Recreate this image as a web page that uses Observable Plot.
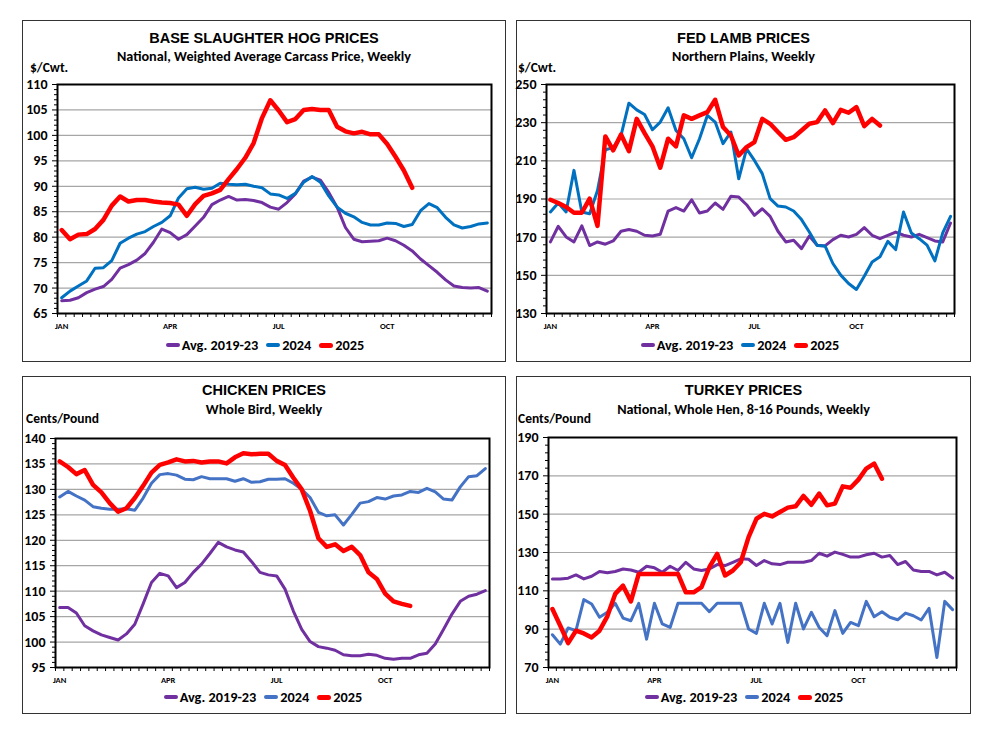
<!DOCTYPE html>
<html>
<head>
<meta charset="utf-8">
<script src="https://cdn.jsdelivr.net/npm/d3@7"></script>
<script src="https://cdn.jsdelivr.net/npm/@observablehq/plot@0.6"></script>
<style>
  html, body { margin: 0; padding: 0; background: #fff; }
  body { width: 1000px; height: 750px; position: relative; overflow: hidden; font-family: Carlito, Lato, "Open Sans", sans-serif; color: #000; }
  .panel { position: absolute; border: 1.5px solid #333; box-sizing: border-box; }
  .title { position: absolute; text-align: center; font: bold 14.5px "Liberation Sans", Arial, sans-serif; line-height: 1; white-space: nowrap; }
  .sub { position: absolute; text-align: center; font-weight: bold; font-size: 14.2px; line-height: 1; white-space: nowrap; }
  .unit { position: absolute; font-weight: bold; font-size: 13.5px; line-height: 1; white-space: nowrap; }
  .legend { position: absolute; display: flex; justify-content: center; align-items: center; font-weight: bold; font-size: 14.3px; line-height: 1; white-space: nowrap; width: 400px; }
  .legend .item { display: flex; align-items: center; margin: 0 4px; }
  .legend .sw { display: inline-block; width: 14px; border-radius: 3px; margin-right: 2px; }
  svg { position: absolute; }
</style>
</head>
<body>
<script>
// ---------- data ----------
const seriesNames = ["Avg. 2019-23", "2024", "2025"];
const monthLabels = ["JAN", "APR", "JUL", "OCT"];
const monthWeeks = [1, 14, 27, 40];

// Base slaughter hog prices ($/Cwt.)
const hogAvg = [67.5,67.6,68.1,69.1,69.8,70.3,71.7,73.9,74.6,75.5,76.8,79.0,81.6,80.9,79.6,80.5,82.2,83.9,86.4,87.3,88.0,87.3,87.4,87.2,86.8,85.9,85.5,86.8,88.5,91.0,91.8,91.2,88.8,85.9,81.9,79.6,79.1,79.2,79.3,79.8,79.3,78.4,77.3,75.7,74.4,73.1,71.6,70.4,70.1,70.0,70.1,69.4];
const hog2024 = [68.1,69.4,70.4,71.4,73.9,74.0,75.4,78.8,79.8,80.6,81.1,82.1,82.9,84.2,87.7,89.5,89.8,89.4,89.6,90.6,90.4,90.3,90.4,90.0,89.7,88.5,88.3,87.6,88.6,90.8,91.9,90.8,88.1,85.9,84.7,84.0,82.9,82.4,82.4,82.8,82.7,82.1,82.5,85.2,86.6,85.8,83.9,82.4,81.8,82.1,82.6,82.8];
const hog2025 = [81.4,79.6,80.5,80.6,81.6,83.4,86.2,88.0,87.0,87.3,87.3,87.0,86.8,86.7,86.4,84.2,86.5,88.1,88.6,89.3,91.4,93.4,95.6,98.5,103.4,106.9,104.9,102.6,103.2,105.0,105.2,105.0,105.0,101.7,100.8,100.4,100.7,100.2,100.2,98.3,95.8,93.1,89.7];

// Fed lamb prices ($/Cwt.)
const lambAvg = [167.5,175.7,170.1,167.5,175.9,165.6,167.5,166.3,168.0,173.1,174.0,173.1,171.0,170.6,171.5,183.7,185.5,183.7,189.6,182.7,183.7,187.9,184.6,191.4,191.0,187.0,181.4,184.9,180.9,173.1,167.5,168.4,164.0,170.6,165.8,165.4,168.7,171.0,170.1,171.5,175.0,171.0,169.2,171.0,172.7,171.0,170.1,171.5,169.8,168.0,167.5,177.4];
const lamb2024 = [183.2,187.9,183.2,205.0,183.2,182.3,194.5,215.8,216.9,223.3,240.2,236.7,234.3,226.3,230.3,237.8,225.9,221.6,211.6,221.6,233.8,230.3,219.0,225.1,200.6,216.3,210.2,203.3,190.2,186.3,185.8,183.7,179.2,172.7,165.6,165.4,156.2,150.1,145.7,142.6,149.5,157.0,159.7,167.8,163.5,183.2,172.2,169.2,165.8,157.6,172.2,180.9];
const lamb2025 = [189.6,187.9,185.8,182.8,182.8,190.2,175.9,222.8,215.5,223.8,215.1,232.0,224.5,217.6,206.4,221.6,217.6,233.8,232.0,233.8,235.5,242.0,227.7,223.3,212.8,217.2,219.8,232.0,229.4,225.1,221.0,222.4,225.9,229.4,230.3,236.4,229.8,236.7,235.2,238.1,228.2,232.0,228.5];

// Chicken prices (Cents/Pound)
const chickenAvg = [106.8,106.8,105.7,103.2,102.2,101.4,100.9,100.4,101.6,103.5,107.5,111.7,113.5,113.0,110.7,111.7,113.7,115.3,117.4,119.6,118.7,118.1,117.7,115.8,113.7,113.2,113.0,110.4,106.1,102.5,100.1,99.1,98.8,98.4,97.5,97.3,97.3,97.6,97.4,96.8,96.6,96.8,96.8,97.5,97.8,99.6,102.5,105.5,108.0,109.0,109.4,110.1];
const chicken2024 = [128.5,129.6,128.7,127.9,126.6,126.3,126.1,126.1,126.2,125.9,128.3,131.2,132.9,133.1,132.8,132.0,131.9,132.5,132.1,132.1,132.1,131.6,132.1,131.4,131.5,132.0,132.0,132.1,131.2,130.0,128.4,125.5,124.8,125.0,123.0,125.1,127.3,127.6,128.4,128.1,128.7,128.9,129.6,129.4,130.2,129.5,128.1,127.9,130.5,132.5,132.7,134.1];
const chicken2025 = [135.5,134.4,133.0,133.8,130.9,129.4,127.3,125.6,126.3,128.3,130.7,133.3,134.8,135.3,135.9,135.5,135.6,135.3,135.5,135.5,135.1,136.3,137.1,136.9,137.0,137.0,135.6,134.8,132.3,130.0,125.8,120.4,118.7,119.2,117.9,118.7,117.1,113.7,112.4,109.5,108.0,107.5,107.1];

// Turkey prices (Cents/Pound)
const turkeyAvg = [116.2,116.2,116.6,118.3,116.2,117.6,120.1,119.4,120.1,121.4,120.9,119.7,122.8,122.0,119.7,122.8,120.6,124.9,121.4,120.6,121.4,123.7,123.2,124.9,126.7,126.5,123.2,125.8,124.1,123.7,124.9,124.9,124.9,125.8,129.6,128.1,130.2,129.0,127.6,127.6,128.8,129.6,127.6,128.4,123.7,125.3,120.9,120.1,120.1,118.3,119.7,116.7];
const turkey2024 = [87.1,82.2,90.6,89.2,105.4,103.1,96.2,98.8,103.5,95.8,94.4,103.5,84.8,103.5,92.7,90.9,103.5,103.5,103.5,103.5,99.1,103.5,103.5,103.5,103.5,90.1,87.8,103.5,92.7,103.5,83.1,103.5,90.1,98.8,90.9,86.6,99.7,87.8,93.5,91.8,104.5,96.5,99.1,96.2,94.9,98.4,97.0,94.8,100.9,75.2,104.5,100.2];
const turkey2025 = [100.5,91.8,82.7,89.2,87.8,85.7,89.2,96.7,108.4,112.7,104.5,118.8,118.8,118.8,118.8,118.8,118.8,109.2,109.2,111.9,122.3,129.3,118.0,120.6,124.9,138.0,147.6,150.2,148.8,151.1,153.4,154.1,159.5,154.9,160.7,154.6,155.5,164.5,163.8,168.0,173.8,176.4,168.5];

// ---------- layout ----------
const panels = [
  { title: "BASE SLAUGHTER HOG PRICES", subtitle: "National, Weighted Average Carcass Price, Weekly", unit: "$/Cwt.",
    box: [22, 20, 484, 342], plot: [57, 84, 434, 229], yDomain: [65, 110], step: 5, minor: 1,
    series: [hogAvg, hog2024, hog2025], colors: ["#7030A0", "#0070C0", "#FF0000"],
    titleY: 38, subY: 56, unitX: 30, unitY: 67.5, legendX: 265, legendY: 345 },
  { title: "FED LAMB PRICES", subtitle: "Northern Plains, Weekly", unit: "$/Cwt.",
    box: [516, 20, 455, 342], plot: [546, 84, 408, 229], yDomain: [130, 250], step: 20, minor: 4,
    series: [lambAvg, lamb2024, lamb2025], colors: ["#7030A0", "#0070C0", "#FF0000"],
    titleY: 38, subY: 56, unitX: 518, unitY: 67.5, legendX: 740, legendY: 345 },
  { title: "CHICKEN PRICES", subtitle: "Whole Bird, Weekly", unit: "Cents/Pound",
    box: [22, 376, 484, 338], plot: [55, 438, 434, 229], yDomain: [95, 140], step: 5, minor: 1,
    series: [chickenAvg, chicken2024, chicken2025], colors: ["#7030A0", "#4472C4", "#FF0000"],
    titleY: 390, subY: 408.5, unitX: 26, unitY: 418.5, legendX: 263, legendY: 697 },
  { title: "TURKEY PRICES", subtitle: "National, Whole Hen, 8-16 Pounds, Weekly", unit: "Cents/Pound",
    box: [516, 376, 455, 338], plot: [548, 437, 408, 230], yDomain: [70, 190], step: 20, minor: 4,
    series: [turkeyAvg, turkey2024, turkey2025], colors: ["#7030A0", "#4472C4", "#FF0000"],
    titleY: 390, subY: 408.5, unitX: 518, unitY: 418.5, legendX: 744, legendY: 697 }
];

function rows(arr) { return arr.map((v, i) => ({ week: i + 1, value: v })); }

function addDiv(cls, text, styles) {
  const d = document.createElement("div");
  d.className = cls;
  if (text != null) d.textContent = text;
  Object.assign(d.style, styles);
  document.body.appendChild(d);
  return d;
}

for (const p of panels) {
  const [bx, by, bw, bh] = p.box;
  const [px, py, pw, ph] = p.plot;

  addDiv("panel", null, { left: bx + "px", top: by + "px", width: bw + "px", height: bh + "px" });
  addDiv("title", p.title, { left: bx + "px", width: bw + "px", top: (p.titleY - 7.5) + "px" });
  addDiv("sub", p.subtitle, { left: bx + "px", width: bw + "px", top: (p.subY - 7) + "px" });
  addDiv("unit", p.unit, { left: p.unitX + "px", top: (p.unitY - 6.5) + "px" });

  const major = d3.range(p.yDomain[0], p.yDomain[1] + 1e-9, p.step);
  const minor = d3.range(p.yDomain[0], p.yDomain[1] + 1e-9, p.minor).filter(v => !major.includes(v));
  const mt = 10, mb = 24;

  const chart = Plot.plot({
    width: bw,
    height: ph + mt + mb,
    marginLeft: px - bx,
    marginRight: bx + bw - (px + pw),
    marginTop: mt,
    marginBottom: mb,
    x: { domain: [0.5, 52.5] },
    y: { domain: p.yDomain },
    style: { fontFamily: "Carlito, Lato, sans-serif", fontWeight: "bold", fontSize: "14px", color: "#000", background: "transparent", overflow: "visible" },
    marks: [
      Plot.gridY(major.slice(1, -1), { stroke: "#a6a6a6", strokeOpacity: 1, strokeWidth: 1.2 }),
      Plot.axisY(minor, { tickSize: 3, tickFormat: () => "", label: null }),
      Plot.axisY(major, { tickSize: 5, tickPadding: 5, label: null, fontSize: 14, fontWeight: "bold" }),
      Plot.axisX(d3.range(0.5, 53, 1), { tickSize: 4, tickFormat: () => "", label: null }),
      Plot.axisX(monthWeeks, { tickSize: 0, tickPadding: 9, label: null, fontSize: 8.5, fontWeight: "bold",
        tickFormat: d => monthLabels[monthWeeks.indexOf(d)] }),
      ...p.series.map((s, i) => Plot.line(rows(s), {
        x: "week", y: "value", stroke: p.colors[i], strokeWidth: i === 2 ? 4.5 : 3,
        strokeLinejoin: "round", strokeLinecap: "round"
      })),
      Plot.frame({ stroke: "#000", strokeWidth: 2 })
    ]
  });
  chart.style.left = bx + "px";
  chart.style.top = (py - mt) + "px";
  document.body.appendChild(chart);

  const lg = addDiv("legend", null, { left: (p.legendX - 200) + "px", top: (p.legendY - 7) + "px" });
  seriesNames.forEach((name, i) => {
    const it = document.createElement("span");
    it.className = "item";
    const sw = document.createElement("span");
    sw.className = "sw";
    sw.style.background = p.colors[i];
    sw.style.height = (i === 2 ? 5 : 4) + "px";
    const tx = document.createElement("span");
    tx.textContent = name;
    it.appendChild(sw); it.appendChild(tx);
    lg.appendChild(it);
  });
}
</script>
</body>
</html>
